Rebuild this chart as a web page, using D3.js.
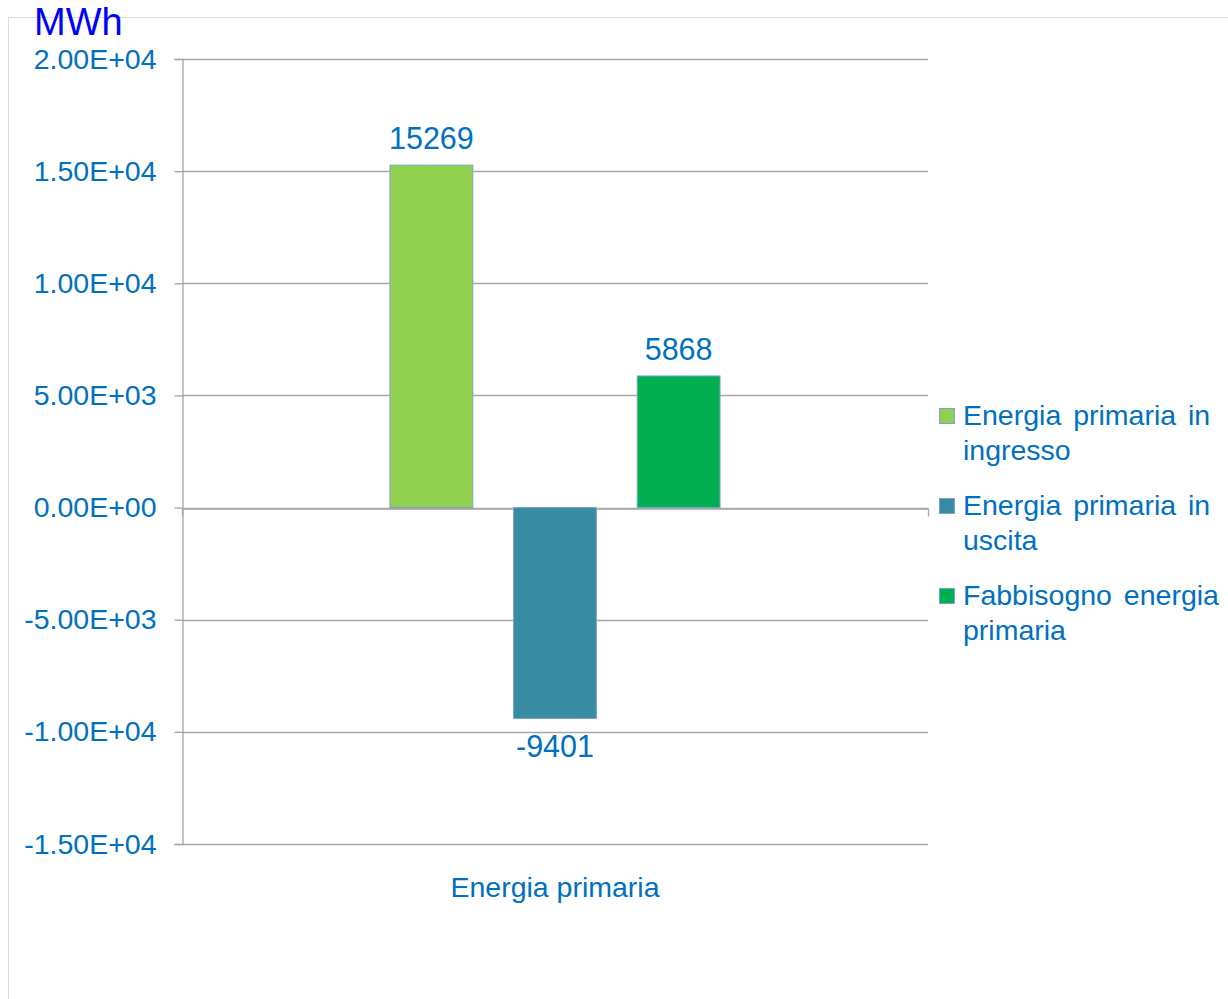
<!DOCTYPE html>
<html>
<head>
<meta charset="utf-8">
<script src="https://cdn.jsdelivr.net/npm/d3@7"></script>
<style>
  html, body { margin: 0; padding: 0; background: #ffffff; }
  svg { display: block; font-family: "Liberation Sans", Arial, sans-serif; }
</style>
</head>
<body>
<svg id="chart" width="1228" height="999"></svg>
<script>
// ---- data ----
const categories = ["Energia primaria"];
const seriesNames = ["Energia primaria in ingresso", "Energia primaria in uscita", "Fabbisogno energia primaria"];
const seriesValues = [15269, -9401, 5868];
const seriesColors = ["#92d050", "#378ba2", "#00b050"];
const legendLines = [["Energia primaria in", "ingresso"], ["Energia primaria in", "uscita"], ["Fabbisogno energia", "primaria"]];
const yTicks = [-15000, -10000, -5000, 0, 5000, 10000, 15000, 20000];
const unitLabel = "MWh";

// ---- layout ----
const svg = d3.select("#chart");
const plot = { left: 182, right: 928, top: 59, bottom: 844 };
const textBlue = "#0070c0";
const lineGray = "#a6a6a6";

// chart-area border (partially visible)
svg.append("rect").attr("x", 8.5).attr("y", 17.5).attr("width", 1240).attr("height", 1000)
  .attr("fill", "none").attr("stroke", "#dcdcdc").attr("stroke-width", 1);

const y = d3.scaleLinear().domain([-15000, 20000]).range([plot.bottom, plot.top]);
const x0 = d3.scaleBand().domain(categories).range([plot.left, plot.right]).paddingInner(0).paddingOuter(0.63);
const x1 = d3.scaleBand().domain(seriesNames).range([0, x0.bandwidth()]).paddingInner(0.33).paddingOuter(0);

function fmt(v) {
  const s = v.toExponential(2);
  const [m, e] = s.split("e");
  const sign = e[0];
  const digits = e.slice(1).padStart(2, "0");
  return m + "E" + sign + digits;
}

// gridlines
svg.append("g").selectAll("line").data(yTicks).join("line")
  .attr("x1", plot.left).attr("x2", plot.right)
  .attr("y1", d => Math.round(y(d)) + 0.5).attr("y2", d => Math.round(y(d)) + 0.5)
  .attr("stroke", lineGray).attr("stroke-width", 1.3);

// y axis
const yAxis = d3.axisLeft(y).tickValues(yTicks).tickFormat(fmt).tickSize(8).tickPadding(18);
const gy = svg.append("g").attr("transform", `translate(${plot.left + 0.5},0)`).call(yAxis);
gy.select(".domain").attr("stroke", lineGray).attr("stroke-width", 1.3);
gy.selectAll(".tick line").attr("stroke", lineGray).attr("stroke-width", 1.3);
gy.selectAll(".tick text").attr("fill", textBlue).attr("font-size", 28.5)
  .attr("font-family", "'Liberation Sans', Arial, sans-serif");

// x axis at zero
const xAxis = d3.axisBottom(d3.scaleLinear().domain([0, 1]).range([plot.left, plot.right]))
  .tickValues([0, 1]).tickFormat("").tickSize(8).tickSizeOuter(0);
const gx = svg.append("g").attr("transform", `translate(0,${Math.round(y(0)) + 0.5})`).call(xAxis);
gx.select(".domain").attr("stroke", lineGray).attr("stroke-width", 1.3);
gx.selectAll(".tick line").attr("stroke", lineGray).attr("stroke-width", 1.3);

// bars
const bars = seriesNames.map((s, i) => ({ cat: categories[0], name: s, value: seriesValues[i], color: seriesColors[i] }));
svg.append("g").selectAll("rect").data(bars).join("rect")
  .attr("x", d => x0(d.cat) + x1(d.name))
  .attr("width", x1.bandwidth())
  .attr("y", d => y(Math.max(0, d.value)))
  .attr("height", d => Math.abs(y(d.value) - y(0)))
  .attr("fill", d => d.color)
  .attr("stroke", "#7ba3c8").attr("stroke-width", 1);

// value labels
svg.append("g").selectAll("text").data(bars).join("text")
  .attr("x", d => x0(d.cat) + x1(d.name) + x1.bandwidth() / 2)
  .attr("y", d => d.value >= 0 ? y(d.value) - 16 : y(d.value) + 39)
  .attr("text-anchor", "middle")
  .attr("fill", textBlue).attr("font-size", 30.5)
  .text(d => d.value);

// category label
svg.append("g").selectAll("text").data(categories).join("text")
  .attr("x", d => x0(d) + x0.bandwidth() / 2)
  .attr("y", 897)
  .attr("text-anchor", "middle")
  .attr("fill", textBlue).attr("font-size", 28.5)
  .text(d => d);

// unit label
svg.append("text").attr("x", 34).attr("y", 35)
  .attr("fill", "#0000ff").attr("font-size", 38)
  .text(unitLabel);

// legend
const lg = svg.append("g");
seriesNames.forEach((s, i) => {
  const baseY = 425 + i * 90;
  lg.append("rect").attr("x", 939.5).attr("y", baseY - 16.5).attr("width", 15).attr("height", 15)
    .attr("fill", seriesColors[i]).attr("stroke", "#7ba3c8").attr("stroke-width", 1);
  legendLines[i].forEach((ln, j) => {
    lg.append("text").attr("x", 963).attr("y", baseY + j * 35)
      .attr("fill", textBlue).attr("font-size", 28.5)
      .attr("word-spacing", j === 0 ? 4 : 0)
      .text(ln);
  });
});
</script>
</body>
</html>
